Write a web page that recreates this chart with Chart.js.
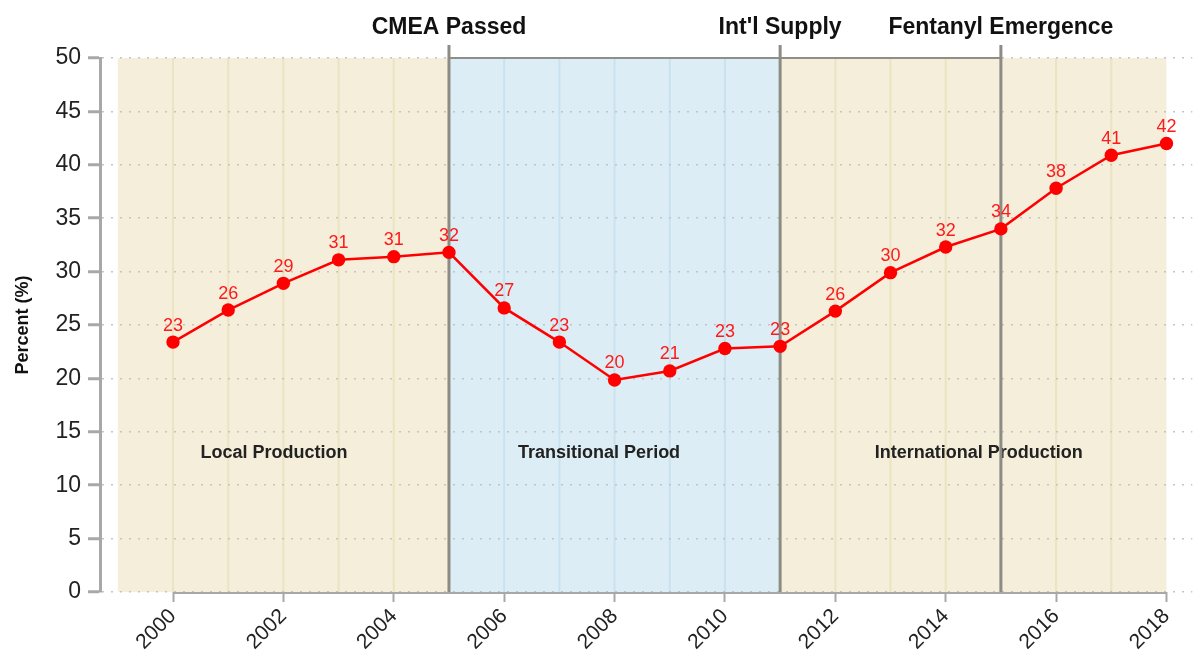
<!DOCTYPE html>
<html>
<head>
<meta charset="utf-8">
<script src="https://cdn.jsdelivr.net/npm/chart.js@4.4.0/dist/chart.umd.min.js"></script>
<style>
  html, body { margin: 0; padding: 0; background: #fff; }
  #wrap { width: 1199px; height: 653px; }
</style>
</head>
<body>
<div id="wrap"><canvas id="methChart" width="1199" height="653"></canvas></div>
<script>
const years = [2000, 2001, 2002, 2003, 2004, 2005, 2006, 2007, 2008, 2009,
               2010, 2011, 2012, 2013, 2014, 2015, 2016, 2017, 2018];
const percent = [23.4, 26.4, 28.9, 31.1, 31.4, 31.8, 26.6, 23.4, 19.85, 20.7,
                 22.8, 23.0, 26.3, 29.9, 32.3, 34.0, 37.8, 40.9, 42.0];
const xTickYears = [2000, 2002, 2004, 2006, 2008, 2010, 2012, 2014, 2016, 2018];
const yTickValues = [0, 5, 10, 15, 20, 25, 30, 35, 40, 45, 50];

const periodNames = ['Local Production', 'Transitional Period', 'International Production'];
const periodStart = [1999, 2005, 2011];
const periodEnd = [2005, 2011, 2018];
const periodLabelYear = [2001.83, 2007.72, 2014.6];
const periodLabelValue = [13, 13, 13];

const eventYears = [2005, 2011, 2015];
const eventNames = ['CMEA Passed', "Int'l Supply", 'Fentanyl Emergence'];

const FONT = '"Liberation Sans", Arial, Helvetica, sans-serif';
const periodFill = ['#f4eedb', '#ddedf5', '#f4eedb'];
const periodYearLine = ['#ebe3c2', '#c8e2ee', '#ebe3c2'];

const periodsPlugin = {
    id: 'periods',
    beforeDraw(chart) {
        const ctx = chart.ctx;
        const x = chart.scales.x, y = chart.scales.y;
        const top = y.getPixelForValue(50), bottom = y.getPixelForValue(0);
        ctx.save();
        periodNames.forEach((name, i) => {
            const x0 = x.getPixelForValue(periodStart[i]);
            const x1 = x.getPixelForValue(periodEnd[i]);
            ctx.fillStyle = periodFill[i];
            ctx.fillRect(x0, top, x1 - x0, bottom - top);
            ctx.strokeStyle = periodYearLine[i];
            ctx.lineWidth = 2;
            years.forEach(yr => {
                if (yr > periodStart[i] && yr < periodEnd[i]) {
                    const px = x.getPixelForValue(yr);
                    ctx.beginPath();
                    ctx.moveTo(px, top);
                    ctx.lineTo(px, bottom);
                    ctx.stroke();
                }
            });
        });
        ctx.restore();
    },
    beforeDatasetsDraw(chart) {
        const ctx = chart.ctx;
        const x = chart.scales.x, y = chart.scales.y;
        const top = y.getPixelForValue(50), bottom = y.getPixelForValue(0);
        ctx.save();
        ctx.textAlign = 'center';
        ctx.textBaseline = 'middle';

        ctx.fillStyle = '#222';
        ctx.font = 'bold 18px ' + FONT;
        periodNames.forEach((name, i) => {
            ctx.fillText(name, x.getPixelForValue(periodLabelYear[i]), y.getPixelForValue(periodLabelValue[i]));
        });

        // top edge over the transitional + international span
        ctx.strokeStyle = '#8f8f88';
        ctx.lineWidth = 2;
        ctx.beginPath();
        ctx.moveTo(x.getPixelForValue(eventYears[0]), top);
        ctx.lineTo(x.getPixelForValue(eventYears[eventYears.length - 1]), top);
        ctx.stroke();

        ctx.lineWidth = 3;
        ctx.strokeStyle = '#8c8c84';
        eventYears.forEach((yr, i) => {
            const px = x.getPixelForValue(yr);
            ctx.beginPath();
            ctx.moveTo(px, top - 13);
            ctx.lineTo(px, bottom);
            ctx.stroke();
            ctx.fillStyle = '#111';
            ctx.font = 'bold 23px ' + FONT;
            ctx.fillText(eventNames[i], px, 28);
        });

        // x axis line only across the data range
        ctx.strokeStyle = '#a8a8a8';
        ctx.lineWidth = 2;
        ctx.beginPath();
        ctx.moveTo(x.getPixelForValue(years[0]), bottom + 1);
        ctx.lineTo(x.getPixelForValue(years[years.length - 1]), bottom + 1);
        ctx.stroke();
        ctx.restore();
    },
    afterDatasetsDraw(chart) {
        const ctx = chart.ctx;
        const meta = chart.getDatasetMeta(0);
        ctx.save();
        ctx.fillStyle = '#ff1a1a';
        ctx.font = '18px ' + FONT;
        ctx.textAlign = 'center';
        ctx.textBaseline = 'middle';
        meta.data.forEach((pt, i) => {
            ctx.fillText(String(Math.round(percent[i])), pt.x, pt.y - 16.5);
        });
        ctx.restore();
    }
};

const ctx = document.getElementById('methChart').getContext('2d');
new Chart(ctx, {
    type: 'line',
    data: {
        datasets: [{
            label: 'Percent',
            data: years.map((yr, i) => ({ x: yr, y: percent[i] })),
            borderColor: '#ff0000',
            backgroundColor: '#ff0000',
            borderWidth: 2.5,
            pointRadius: 6.7,
            pointHoverRadius: 6.7,
            pointBorderWidth: 0,
            tension: 0,
            clip: false
        }]
    },
    options: {
        responsive: false,
        animation: false,
        layout: { padding: { top: 58, right: 4, left: 0, bottom: 0 } },
        plugins: {
            legend: { display: false },
            tooltip: { enabled: false }
        },
        scales: {
            x: {
                type: 'linear',
                min: 1998.677,
                max: 2018.468,
                afterBuildTicks: scale => {
                    scale.ticks = xTickYears.map(v => ({ value: v }));
                },
                afterFit: scale => { scale.height = 61; },
                border: { display: false },
                grid: {
                    drawOnChartArea: false,
                    drawTicks: true,
                    tickLength: 10,
                    tickColor: '#a8a8a8',
                    tickWidth: 2
                },
                ticks: {
                    minRotation: 45,
                    maxRotation: 45,
                    autoSkip: false,
                    padding: 2,
                    color: '#222',
                    font: { family: FONT, size: 21 },
                    callback: v => String(v)
                }
            },
            y: {
                min: 0,
                max: 50,
                afterBuildTicks: scale => {
                    scale.ticks = yTickValues.map(v => ({ value: v }));
                },
                afterFit: scale => { scale.width = 100; },
                border: { display: true, color: '#a8a8a8', width: 3, dash: [2, 7] },
                grid: {
                    color: '#c4c4c4',
                    lineWidth: 1.5,
                    tickBorderDash: [],
                    tickColor: '#a8a8a8',
                    tickWidth: 3,
                    tickLength: 12
                },
                ticks: {
                    padding: 7,
                    color: '#222',
                    font: { family: FONT, size: 23 }
                },
                title: {
                    display: true,
                    text: 'Percent (%)',
                    color: '#111',
                    padding: { top: 12, bottom: 0 },
                    font: { family: FONT, size: 18, weight: 'bold' }
                }
            }
        }
    },
    plugins: [periodsPlugin]
});
</script>
</body>
</html>
